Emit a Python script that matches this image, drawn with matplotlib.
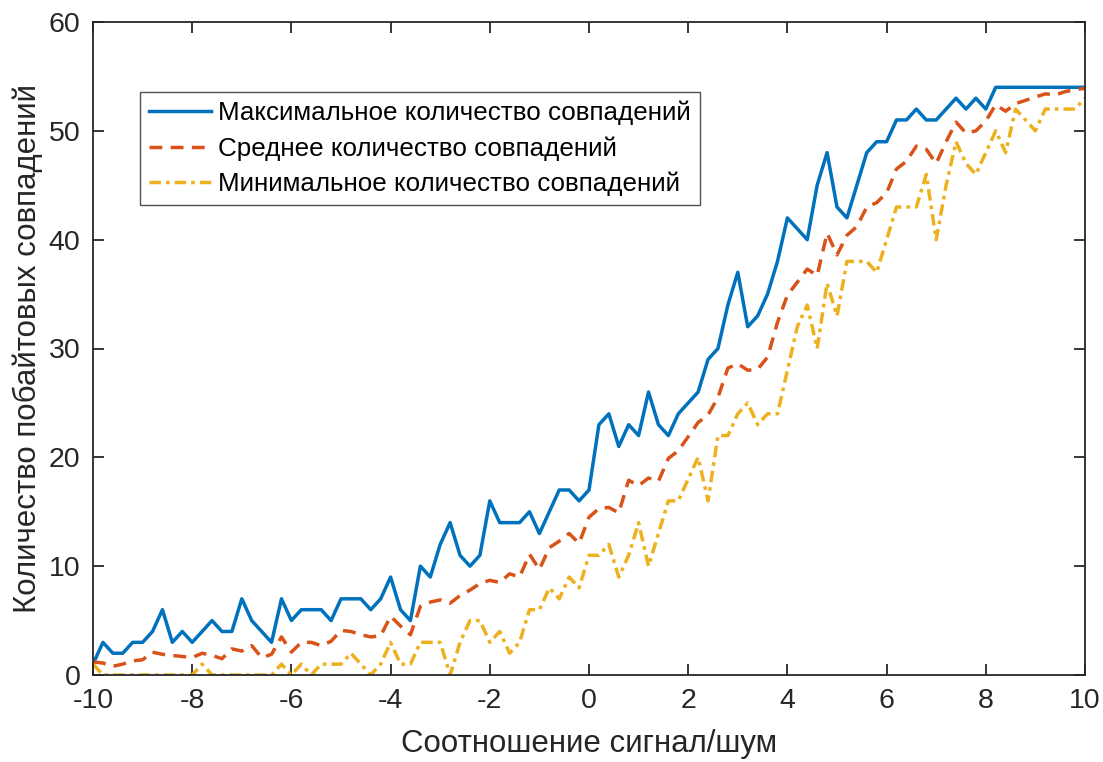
import numpy as np
import matplotlib
matplotlib.use("Agg")
import matplotlib.pyplot as plt

plt.rcParams['font.family'] = ['Liberation Sans', 'DejaVu Sans']

# Signal-to-noise ratio grid
snr = np.round(np.linspace(-10, 10, 101), 1)

max_matches = [
    1, 3, 2, 2, 3, 3, 4, 6, 3, 4, 3, 4, 5, 4, 4, 7, 5, 4, 3, 7, 5, 6, 6, 6, 5, 7,
    7, 7, 6, 7, 9, 6, 5, 10, 9, 12, 14, 11, 10, 11, 16, 14, 14, 14, 15, 13, 15, 17, 17, 16, 17,
    23, 24, 21, 23, 22, 26, 23, 22, 24, 25, 26, 29, 30, 34, 37, 32, 33, 35, 38, 42, 41, 40, 45, 48, 43,
    42, 45, 48, 49, 49, 51, 51, 52, 51, 51, 52, 53, 52, 53, 52, 54, 54, 54, 54, 54, 54, 54, 54, 54, 54,
]

mean_matches = [
    1.2, 1.1, 0.8, 1.0, 1.3, 1.4, 2.1, 1.9, 1.8, 1.7, 1.6, 2.0, 1.8, 1.5, 2.4, 2.2, 2.7, 1.6, 1.9,
    3.5, 2.1, 3.0, 3.0, 2.7, 3.1, 4.1, 4.0, 3.7, 3.5, 3.6, 5.4, 4.5, 3.7, 6.3, 6.7, 6.9, 6.6, 7.3,
    7.8, 8.4, 8.7, 8.5, 9.3, 9.0, 11.1, 9.7, 11.7, 12.3, 13.0, 12.1, 14.5,
    15.3, 15.4, 14.9, 17.9, 17.4, 18.1, 17.8, 19.9, 20.6, 21.9, 23.2, 23.9, 25.5, 28.2, 28.6, 28.0,
    28.1, 29.2, 32.4, 34.9, 36.1, 37.3, 36.7, 40.6, 38.6,
    40.4, 41.2, 43.0, 43.4, 44.3, 46.5, 47.2, 48.6, 48.3, 47.0, 49.0, 50.8, 49.8, 50.0, 50.9, 52.4,
    51.8, 52.5, 52.8, 53.1, 53.4, 53.3, 53.6, 53.8, 53.9,
]

min_matches = [
    1, 0, 0, 0, 0, 0, 0, 0, 0, 0, 0, 1, 0, 0, 0, 0, 0, 0, 0, 1, 0, 1, 0, 1, 1, 1,
    2, 1, 0, 1, 3, 1, 1, 3, 3, 3, 0, 3, 5, 5, 3, 4, 2, 3, 6, 6, 8, 7, 9, 8, 11,
    11, 12, 9, 11, 14, 10, 13, 16, 16, 18, 20, 16, 22, 22, 24, 25, 23, 24, 24, 28, 32, 34, 30, 36, 33,
    38, 38, 38, 37, 40, 43, 43, 43, 46, 40, 45, 49, 47, 46, 48, 50, 48, 52, 51, 50, 52, 52, 52, 52, 53,
]

series_labels = [
    'Максимальное количество совпадений',
    'Среднее количество совпадений',
    'Минимальное количество совпадений',
]
x_ticks = [-10, -8, -6, -4, -2, 0, 2, 4, 6, 8, 10]
y_ticks = [0, 10, 20, 30, 40, 50, 60]

fig = plt.figure(figsize=(11.03, 7.62), dpi=100)
ax = fig.add_axes([93 / 1103, 1 - 675 / 762, 992 / 1103, 653 / 762])

lw = 2.5
ax.plot(snr, max_matches, color='#0072BD', lw=lw, ls='-', label=series_labels[0])
ax.plot(snr, mean_matches, color='#D95319', lw=lw, ls=(0, (3.7, 2.4)), label=series_labels[1])
ax.plot(snr, min_matches, color='#EDB120', lw=lw, ls=(0, (3.3, 1.45, 1.05, 1.45)), label=series_labels[2])

ax.set_xlim(-10, 10)
ax.set_ylim(0, 60)
ax.set_xticks(x_ticks)
ax.set_yticks(y_ticks)
ax.set_xticklabels([str(t) for t in x_ticks])
ax.tick_params(direction='in', length=8, width=1.3, top=True, right=True,
               labelsize=20.5, colors='#262626', pad=9)
for s in ax.spines.values():
    s.set_linewidth(1.3)
    s.set_color('#262626')

ax.set_xlabel('Соотношение сигнал/шум', fontsize=22.5, color='#262626', labelpad=11)
ax.set_ylabel('Количество побайтовых совпадений', fontsize=22.5, color='#262626', labelpad=4)

leg = ax.legend(loc='upper left', bbox_to_anchor=(0.047, 0.893), borderaxespad=0,
                fontsize=18.7, frameon=True, fancybox=False, handlelength=2.4,
                handletextpad=0.27, labelspacing=0.42, borderpad=0.35)
leg.get_frame().set_edgecolor('#262626')
leg.get_frame().set_linewidth(1.0)

fig.savefig('out.png', dpi=100)
